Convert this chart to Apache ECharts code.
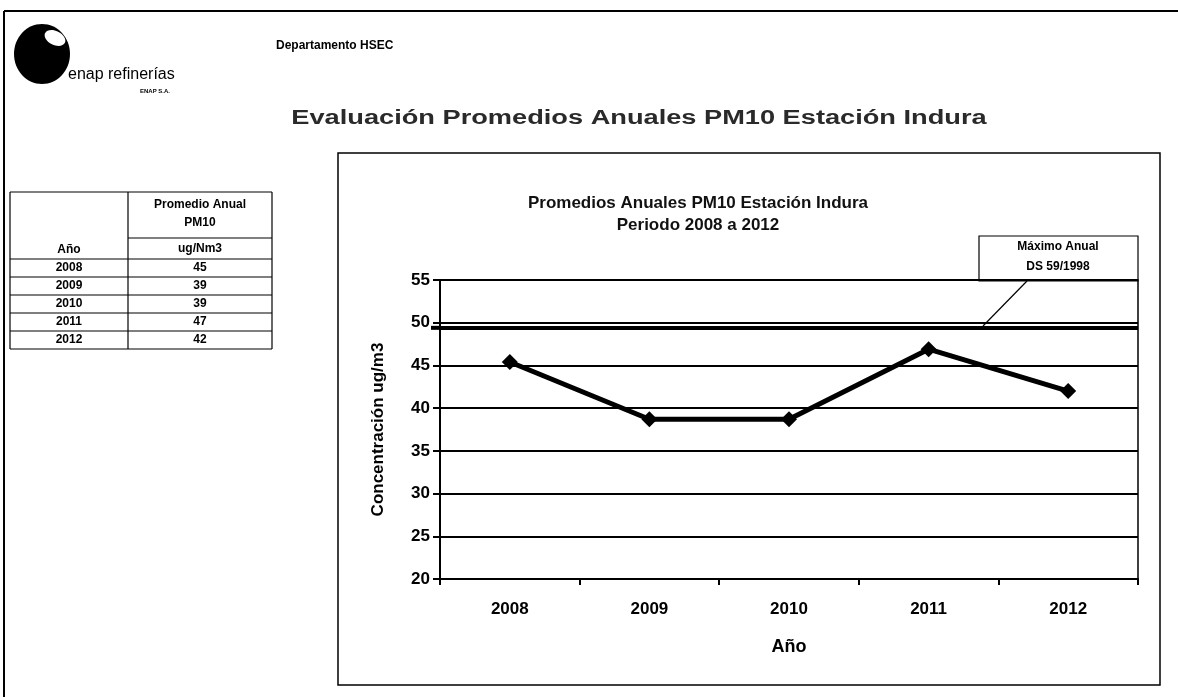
<!DOCTYPE html>
<html>
<head>
<meta charset="utf-8">
<title>PM10 Estación Indura</title>
<script src="https://cdn.jsdelivr.net/npm/echarts@6/dist/echarts.min.js"></script>
<style>
	html, body { margin: 0; padding: 0; background: #fff; }
	#main { width: 1178px; height: 697px; }
</style>
</head>
<body>
<div id="main"></div>
<script>
// data
var years = ["2008", "2009", "2010", "2011", "2012"];
var plotValues = [45.4, 38.7, 38.7, 46.9, 42.0];
var tableValues = ["45", "39", "39", "47", "42"];
var limitValue = 49.4;
var yMin = 20;
var yMax = 55;
var yStep = 5;

var arial = "'Liberation Sans', Arial, sans-serif";
var narrow = "'Liberation Sans Narrow', 'Liberation Sans', Arial, sans-serif";

var chart = echarts.init(document.getElementById("main"));

// the small table on the left, built from the same arrays
function buildTable() {
	var left = 10, mid = 128, right = 272;
	var top = 192, headBottom = 259, rowH = 18;
	var els = [];
	var line = function (x1, y1, x2, y2) {
		els.push({
			type: "line",
			shape: { x1: x1, y1: y1, x2: x2, y2: y2 },
			style: { stroke: "#000", lineWidth: 1.2 }
		});
	};
	var text = function (x, y, s) {
		els.push({
			type: "text",
			x: x, y: y,
			style: {
				text: s, fill: "#000", font: "bold 12px " + arial,
				align: "center", verticalAlign: "middle"
			}
		});
	};
	var bottom = headBottom + rowH * years.length;
	line(left, top, right, top);
	line(left, top, left, bottom);
	line(mid, top, mid, bottom);
	line(right, top, right, bottom);
	line(mid, 238, right, 238);
	line(left, headBottom, right, headBottom);
	text((mid + right) / 2, 205, "Promedio Anual");
	text((mid + right) / 2, 223, "PM10");
	text((mid + right) / 2, 249, "ug/Nm3");
	text((left + mid) / 2, 250, "Año");
	years.forEach(function (y, i) {
		var cy = headBottom + rowH * i + rowH / 2;
		text((left + mid) / 2, cy, y);
		text((mid + right) / 2, cy, tableValues[i]);
		line(left, headBottom + rowH * (i + 1), right, headBottom + rowH * (i + 1));
	});
	return els;
}

var graphics = [
	// page frame
	{ type: "line", shape: { x1: 4, y1: 11, x2: 1178, y2: 11 }, style: { stroke: "#000", lineWidth: 2 } },
	{ type: "line", shape: { x1: 4, y1: 11, x2: 4, y2: 697 }, style: { stroke: "#000", lineWidth: 2 } },
	// logo
	{ type: "ellipse", shape: { cx: 42, cy: 54, rx: 28, ry: 30 }, style: { fill: "#000" } },
	{ type: "ellipse", shape: { cx: 0, cy: 0, rx: 11, ry: 7 }, x: 55, y: 38, rotation: -0.45, style: { fill: "#fff" } },
	{ type: "text", x: 68, y: 75, style: { text: "enap refinerías", font: "16px " + narrow, fill: "#000", verticalAlign: "middle" } },
	{ type: "text", x: 140, y: 91, style: { text: "ENAP S.A.", font: "bold 6px " + arial, fill: "#000", verticalAlign: "middle" } },
	// headings
	{ type: "text", x: 276, y: 46, style: { text: "Departamento HSEC", font: "bold 12px " + arial, fill: "#000", verticalAlign: "middle" } },
	{ type: "text", x: 639, y: 118, scaleX: 1.36, style: { text: "Evaluación Promedios Anuales PM10 Estación Indura", font: "bold 20px " + arial, fill: "#2a2a2a", align: "center", verticalAlign: "middle" } },
	// chart frame
	{ type: "rect", shape: { x: 338, y: 153, width: 822, height: 532 }, style: { fill: "none", stroke: "#000", lineWidth: 1.5 } },
	// annotation for the annual limit
	{ type: "line", shape: { x1: 1027, y1: 281, x2: 983, y2: 326 }, style: { stroke: "#000", lineWidth: 1.2 } },
	{ type: "rect", shape: { x: 979, y: 236, width: 159, height: 45 }, style: { fill: "#fff", stroke: "#000", lineWidth: 1.2 } },
	{ type: "text", x: 1058, y: 247, style: { text: "Máximo Anual", font: "bold 12px " + arial, fill: "#000", align: "center", verticalAlign: "middle" } },
	{ type: "text", x: 1058, y: 267, style: { text: "DS 59/1998", font: "bold 12px " + arial, fill: "#000", align: "center", verticalAlign: "middle" } }
].concat(buildTable());

var option = {
	animation: false,
	backgroundColor: "#fff",
	title: {
		text: "Promedios Anuales PM10 Estación Indura\nPeriodo 2008 a 2012",
		left: 693,
		top: 187,
		textAlign: "center",
		textStyle: {
			fontFamily: narrow,
			fontSize: 17,
			fontWeight: "bold",
			color: "#111",
			lineHeight: 22
		}
	},
	grid: {
		left: 440,
		right: 40,
		top: 280,
		bottom: 118,
		show: true,
		borderColor: "#000",
		borderWidth: 1.5,
		containLabel: false
	},
	xAxis: {
		type: "category",
		data: years,
		boundaryGap: true,
		name: "Año",
		nameLocation: "middle",
		nameGap: 59,
		nameTextStyle: { fontFamily: narrow, fontSize: 18, fontWeight: "bold", color: "#000" },
		axisLine: { lineStyle: { color: "#000", width: 2 } },
		axisTick: { show: true, length: 6, lineStyle: { color: "#000", width: 2 } },
		axisLabel: { margin: 22, fontFamily: narrow, fontSize: 17, fontWeight: "bold", color: "#000" },
		splitLine: { show: false }
	},
	yAxis: {
		type: "value",
		min: yMin,
		max: yMax,
		interval: yStep,
		name: "Concentración ug/m3",
		nameLocation: "middle",
		nameGap: 53,
		nameTextStyle: { fontFamily: arial, fontSize: 17, fontWeight: "bold", color: "#000" },
		axisLine: { show: true, lineStyle: { color: "#000", width: 2 } },
		axisTick: { show: true, length: 7, lineStyle: { color: "#000", width: 2 } },
		axisLabel: { margin: 10, fontFamily: arial, fontSize: 17, fontWeight: "bold", color: "#000" },
		splitLine: { show: true, lineStyle: { color: "#000", width: 2 } }
	},
	series: [{
		type: "line",
		data: plotValues,
		symbol: "diamond",
		symbolSize: 16,
		lineStyle: { color: "#000", width: 5 },
		itemStyle: { color: "#000" },
		markLine: {
			silent: true,
			symbol: "none",
			label: { show: false },
			lineStyle: { color: "#000", width: 4, type: "solid" },
			data: [{ yAxis: limitValue }]
		}
	}],
	graphic: graphics
};

chart.setOption(option);

// the limit line in the sheet pokes a little past the value axis
var limitY = chart.convertToPixel({ yAxisIndex: 0 }, limitValue);
chart.setOption({
	graphic: graphics.concat([{
		type: "line",
		shape: { x1: 431, y1: limitY, x2: 441, y2: limitY },
		style: { stroke: "#000", lineWidth: 4 }
	}])
});
</script>
</body>
</html>
